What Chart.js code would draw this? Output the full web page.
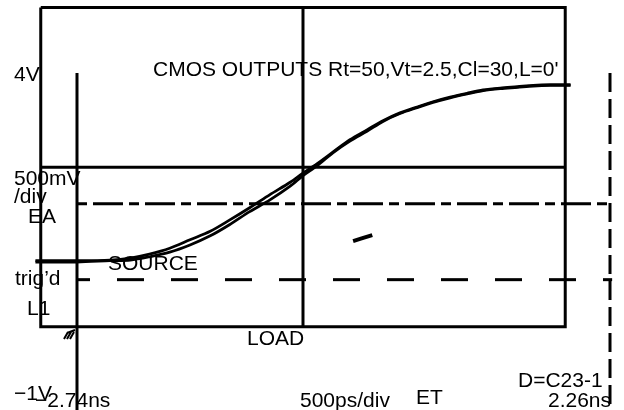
<!DOCTYPE html>
<html>
<head>
<meta charset="utf-8">
<script src="https://cdn.jsdelivr.net/npm/chart.js@4"></script>
<style>
  html, body { margin: 0; padding: 0; background: #fff; }
  canvas { display: block; }
</style>
</head>
<body>
<canvas id="scope" width="624" height="410"></canvas>
<script>
// time axis (ns) and the two traces (V)
const timeNs = [-3.13, -2.74, -2.43, -2.24, -2.06, -1.87, -1.68, -1.49, -1.31, -1.12, -0.93, -0.74, -0.62, -0.49, -0.34, -0.18, -0.02, 0.13, 0.29, 0.45, 0.60, 0.76, 0.92, 1.07, 1.23, 1.39, 1.54, 1.70, 1.89];
const sourceV = [1.13, 1.13, 1.14, 1.17, 1.23, 1.32, 1.45, 1.58, 1.75, 1.94, 2.14, 2.33, 2.47, 2.61, 2.79, 2.98, 3.13, 3.27, 3.39, 3.48, 3.56, 3.63, 3.69, 3.74, 3.77, 3.79, 3.81, 3.82, 3.82];
const loadV = [1.11, 1.11, 1.13, 1.14, 1.19, 1.26, 1.37, 1.51, 1.68, 1.88, 2.06, 2.27, 2.43, 2.58, 2.78, 2.96, 3.11, 3.26, 3.38, 3.47, 3.55, 3.62, 3.68, 3.73, 3.76, 3.78, 3.80, 3.81, 3.81];

// screen graticule / cursor levels
const windowT = [-3.08, 1.84];
const windowV = [0.12, 5.0];
const centerT = -0.62;
const centerV = 2.56;
const startT = -2.74;
const endT = 2.26;
const topV = 4;
const bottomV = -1.16;
const eaLevelV = 2.0;
const trigLevelV = 0.84;
const markerT = [-0.15, -0.07, 0.03];
const markerV = [1.43, 1.47, 1.52];
const groundV = 0.07;

// text on the screen
const titleText = "CMOS OUTPUTS Rt=50,Vt=2.5,Cl=30,L=0'";
const labels = [
  ["4V", 14, 81],
  [titleText, 153, 76],
  ["500mV", 14, 185],
  ["/div", 14, 203],
  ["EA", 28, 223],
  ["SOURCE", 108, 270],
  ["trig\u2019d", 15, 285],
  ["L1", 27, 315],
  ["LOAD", 247, 345],
  ["\u22121V", 14, 400],
  ["\u22122.74ns", 35, 407],
  ["500ps/div", 300, 407],
  ["ET", 416, 404],
  ["D=C23-1", 518, 387],
  ["2.26ns", 548, 407],
];

function seg(ts, vs) {
  return ts.map((t, i) => ({ x: t, y: vs[i] }));
}

function lineSet(data, width, dash, dashOffset, tension) {
  return {
    data: data,
    showLine: true,
    borderColor: "#000",
    borderWidth: width,
    borderDash: dash || [],
    borderDashOffset: dashOffset || 0,
    pointRadius: 0,
    tension: tension || 0,
    fill: false,
  };
}

const textPlugin = {
  id: "screenText",
  afterDatasetsDraw: (chart) => {
    const ctx = chart.ctx;
    const xs = chart.scales.x;
    const ys = chart.scales.y;
    ctx.save();

    // ground symbol below the trigger line
    const gx = xs.getPixelForValue(startT);
    const gy = ys.getPixelForValue(groundV);
    ctx.strokeStyle = "#000";
    ctx.lineWidth = 2;
    ctx.beginPath();
    ctx.moveTo(gx - 10, gy + 3);
    ctx.lineTo(gx - 2, gy);
    for (let k = 0; k < 3; k++) {
      ctx.moveTo(gx - 9 + k * 3, gy + 2);
      ctx.lineTo(gx - 13 + k * 3, gy + 9);
    }
    ctx.stroke();

    ctx.fillStyle = "#000";
    ctx.font = '21px "Liberation Sans", Arial, sans-serif';
    ctx.textAlign = "left";
    ctx.textBaseline = "alphabetic";
    labels.forEach(([text, x, y]) => ctx.fillText(text, x, y));
    ctx.restore();
  },
};

new Chart(document.getElementById("scope"), {
  type: "scatter",
  data: {
    datasets: [
      lineSet(seg(timeNs, sourceV), 2.8, null, 0, 0.3),
      lineSet(seg(timeNs, loadV), 2.8, null, 0, 0.3),
      lineSet(seg([windowT[0], windowT[1], windowT[1], windowT[0], windowT[0]],
                  [windowV[1], windowV[1], windowV[0], windowV[0], windowV[1]]), 3),
      lineSet(seg([centerT, centerT], windowV), 3),
      lineSet(seg(windowT, [centerV, centerV]), 3),
      lineSet(seg([startT, startT], [topV, bottomV]), 3),
      lineSet(seg([startT, endT + 0.02], [eaLevelV, eaLevelV]), 3, [10, 6, 30, 6]),
      lineSet(seg([startT, endT + 0.02], [trigLevelV, trigLevelV]), 3, [27, 27], 14),
      lineSet(seg([endT, endT], [topV, bottomV]), 3, [19, 7]),
      lineSet(seg(markerT, markerV), 4),
    ],
  },
  options: {
    responsive: false,
    animation: false,
    layout: { padding: 0 },
    scales: {
      x: { type: "linear", min: -3.4623, max: 2.3913, display: false },
      y: { type: "linear", min: -1.1529, max: 5.1162, display: false },
    },
    plugins: {
      legend: { display: false },
      tooltip: { enabled: false },
    },
  },
  plugins: [textPlugin],
});
</script>
</body>
</html>
